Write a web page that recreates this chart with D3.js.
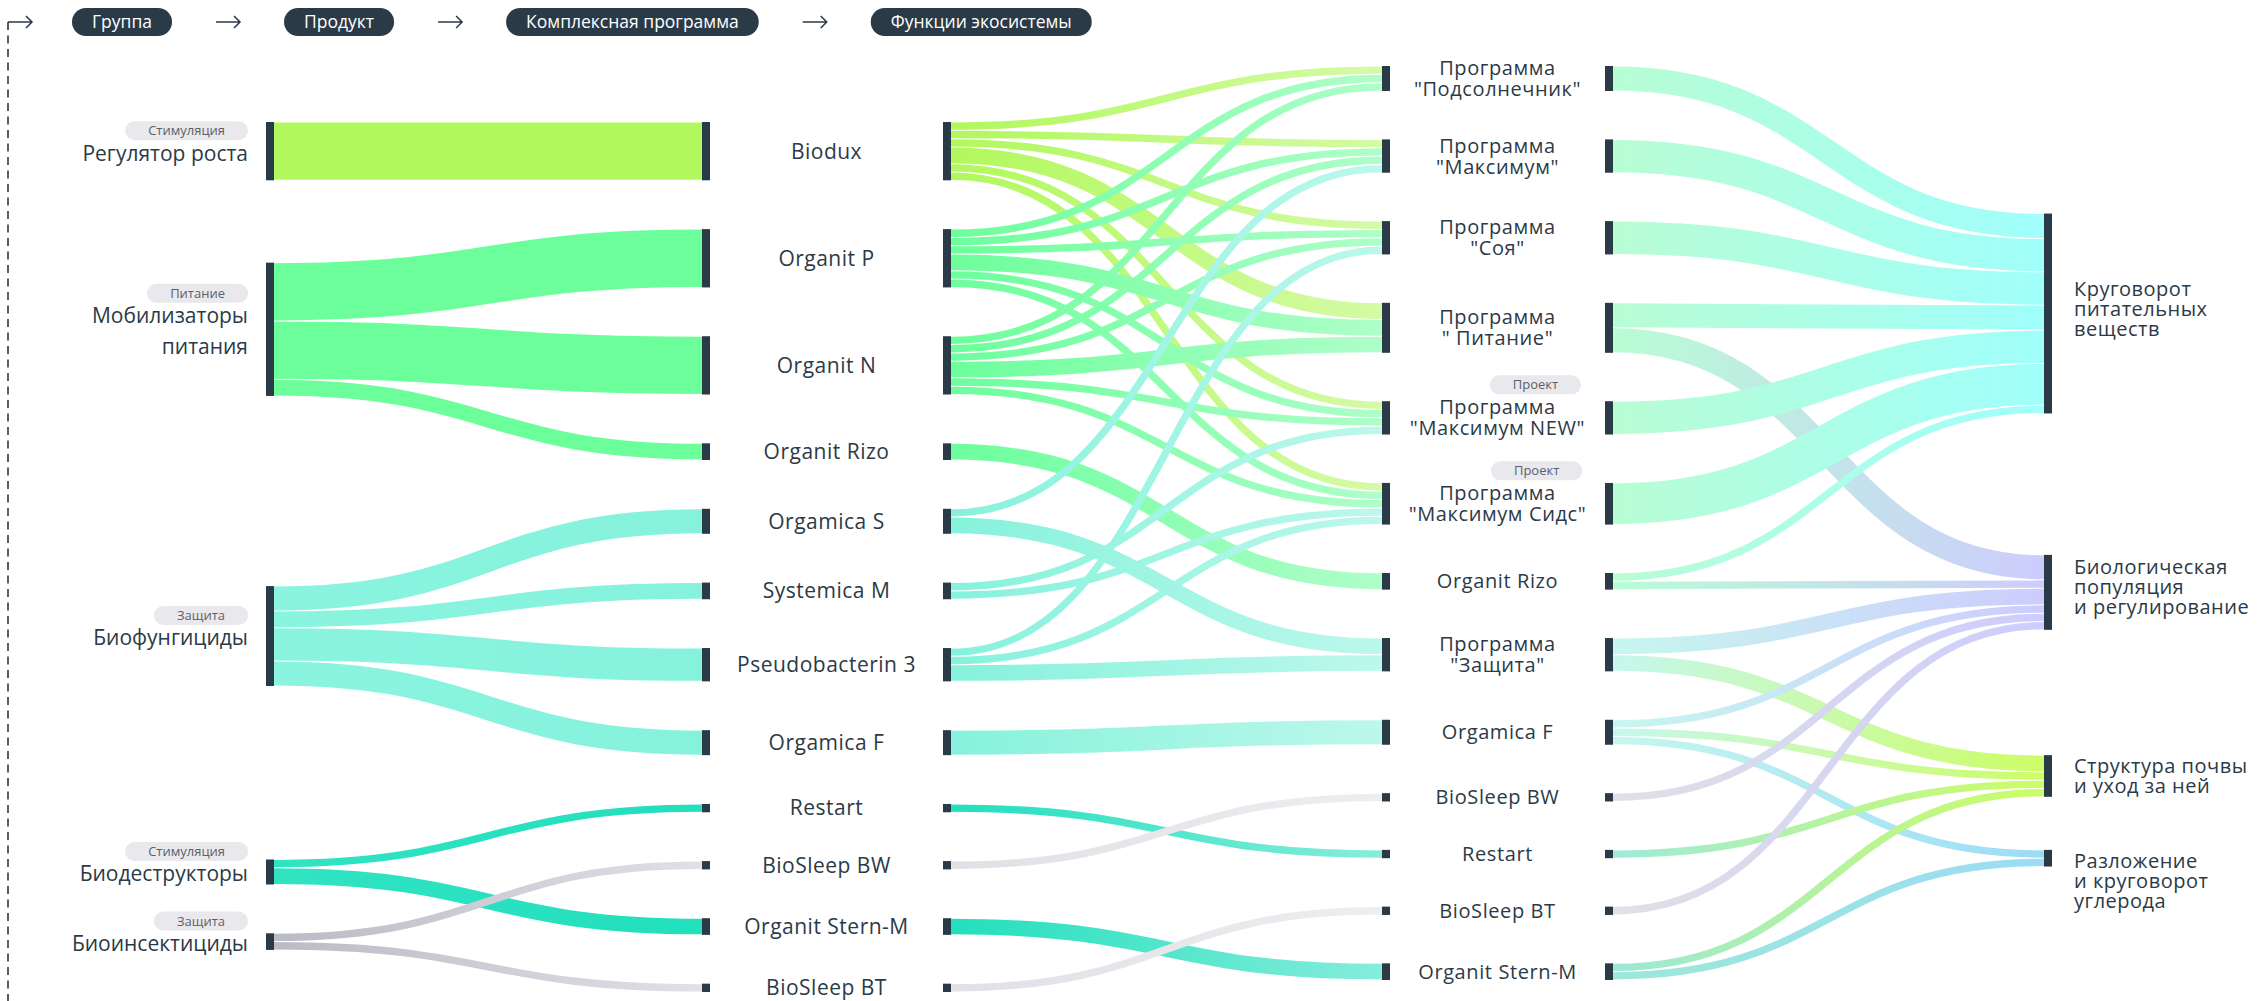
<!DOCTYPE html>
<html>
<head>
<meta charset="utf-8">
<script src="https://cdn.jsdelivr.net/npm/d3@7"></script>
<style>
  body { margin: 0; background: #fff; }
  svg text { font-family: "Open Sans", "Noto Sans", sans-serif; }
</style>
</head>
<body>
<svg id="chart" width="2257" height="1001"></svg>
<script>
// ---- data ----
var steps = ["Группа", "Продукт", "Комплексная программа", "Функции экосистемы"];

var groupNames = ["Регулятор роста", "Мобилизаторы\nпитания", "Биофунгициды", "Биодеструкторы", "Биоинсектициды"];
var groupTags = ["Стимуляция", "Питание", "Защита", "Стимуляция", "Защита"];
var groupColors = ["#b1f85c", "#6dfe9c", "#8af4df", "#30e3c3", "#bbbbc6"];

var productNames = ["Biodux", "Organit P", "Organit N", "Organit Rizo", "Orgamica S", "Systemica M",
  "Pseudobacterin 3", "Orgamica F", "Restart", "BioSleep BW", "Organit Stern-M", "BioSleep BT"];
var productColors = ["#b1f85c", "#6dfe9c", "#6dfe9c", "#6dfe9c", "#86f2dc", "#86f2dc",
  "#86f2dc", "#86f2dc", "#22dfbd", "#e0e0e6", "#22dfbd", "#e0e0e6"];

var programNames = ["Программа\n\"Подсолнечник\"", "Программа\n\"Максимум\"", "Программа\n\"Соя\"",
  "Программа\n\" Питание\"", "Программа\n\"Максимум NEW\"", "Программа\n\"Максимум Сидс\"",
  "Organit Rizo", "Программа\n\"Защита\"", "Orgamica F", "BioSleep BW", "Restart", "BioSleep BT", "Organit Stern-M"];
var programTags = ["", "", "", "", "Проект", "Проект", "", "", "", "", "", "", ""];
var programColors = ["#b8fdd4", "#b8fdd4", "#b8fdd4", "#b8fdd4", "#b8fdd4", "#b8fdd4",
  "#b8fdd4", "#c6f7ef", "#c6f7ef", "#e0e0e6", "#a0ead9", "#e0e0e6", "#9ce8d8"];

var functionNames = ["Круговорот\nпитательных\nвеществ", "Биологическая\nпопуляция\nи регулирование",
  "Структура почвы\nи уход за ней", "Разложение\nи круговорот\nуглерода"];
var functionColors = ["#a0fffb", "#cdccfd", "#cdfd66", "#9cdcf5"];

// [source index, target index, value]
var groupToProduct = [[0, 0, 7], [1, 1, 7], [1, 2, 7], [1, 3, 2], [2, 4, 3], [2, 5, 2], [2, 6, 4], [2, 7, 3],
  [3, 8, 1], [3, 10, 2], [4, 9, 1], [4, 11, 1]];
var productToProgram = [
  [0, 0, 1], [0, 1, 1], [0, 2, 1], [0, 3, 2], [0, 4, 1], [0, 5, 1],
  [1, 0, 1], [1, 1, 1], [1, 2, 1], [1, 3, 2], [1, 4, 1], [1, 5, 1],
  [2, 0, 1], [2, 1, 1], [2, 2, 1], [2, 3, 2], [2, 4, 1], [2, 5, 1],
  [3, 6, 2],
  [4, 1, 1], [4, 7, 2],
  [5, 4, 1], [5, 5, 1],
  [6, 2, 1], [6, 5, 1], [6, 7, 2],
  [7, 8, 3],
  [8, 10, 1],
  [9, 9, 1],
  [10, 12, 2],
  [11, 11, 1]
];
var programToFunction = [
  [0, 0, 3], [1, 0, 4], [2, 0, 4], [3, 0, 3], [3, 1, 3], [4, 0, 4], [5, 0, 5],
  [6, 0, 1], [6, 1, 1], [7, 1, 2], [7, 2, 2], [8, 1, 1], [8, 2, 1], [8, 3, 1],
  [9, 1, 1], [10, 2, 1], [11, 1, 1], [12, 2, 1], [12, 3, 1]
];

// ---- layout ----
var ink = "#2b3a47";
var k = 8.33;          // px per unit
var productPad = 48.8, programPad = 48.4, outerPad = 48.8;
var barW = 8;
var colX = [266, 702, 943, 1382, 1605, 2044];
var productTop = 122, programTop = 66;

var svg = d3.select("#chart");
var defs = svg.append("defs");

function makeNodes(names, colors) {
  return names.map(function(n, i) {
    return { name: n, color: colors[i], index: i, out: [], in: [] };
  });
}
var G = makeNodes(groupNames, groupColors);
var P = makeNodes(productNames, productColors);
var R = makeNodes(programNames, programColors);
var F = makeNodes(functionNames, functionColors);

function makeLinks(list, src, tgt) {
  return list.map(function(d) {
    var l = { source: src[d[0]], target: tgt[d[1]], value: d[2] };
    src[d[0]].out.push(l);
    tgt[d[1]].in.push(l);
    return l;
  });
}
var L1 = makeLinks(groupToProduct, G, P);
var L2 = makeLinks(productToProgram, P, R);
var L3 = makeLinks(programToFunction, R, F);

[G, P, R, F].forEach(function(col) {
  col.forEach(function(n) {
    n.value = Math.max(d3.sum(n.in, function(l) { return l.value; }), d3.sum(n.out, function(l) { return l.value; }));
  });
});

function stack(nodes, top, pad) {
  var y = top;
  nodes.forEach(function(n) {
    n.y0 = y;
    n.y1 = y + n.value * k;
    y = n.y1 + pad;
  });
}
stack(P, productTop, productPad);
stack(R, programTop, programPad);

// slots: out links ordered by target index, in links by source index
function outSlots(nodes) {
  nodes.forEach(function(n) {
    var y = n.y0;
    n.out.sort(function(a, b) { return a.target.index - b.target.index; });
    n.out.forEach(function(l) { l.sy = y + l.value * k / 2; y += l.value * k; });
  });
}
function inSlots(nodes) {
  nodes.forEach(function(n) {
    var y = n.y0;
    n.in.sort(function(a, b) { return a.source.index - b.source.index; });
    n.in.forEach(function(l) { l.ty = y + l.value * k / 2; y += l.value * k; });
  });
}
function resolve(nodes) {
  for (var i = 1; i < nodes.length; i++) {
    var over = nodes[i - 1].y1 + outerPad - nodes[i].y0;
    if (over > 0) {
      nodes[i - 1].y0 -= over / 2; nodes[i - 1].y1 -= over / 2;
      nodes[i].y0 += over / 2; nodes[i].y1 += over / 2;
    }
  }
}

inSlots(P);
outSlots(P);
inSlots(R);
outSlots(R);

// outer columns sit at the weighted centre of their links
G.forEach(function(n) {
  var c = d3.sum(n.out, function(l) { return l.ty * l.value; }) / n.value;
  n.y0 = c - n.value * k / 2; n.y1 = c + n.value * k / 2;
});
F.forEach(function(n) {
  var c = d3.sum(n.in, function(l) { return l.sy * l.value; }) / n.value;
  n.y0 = c - n.value * k / 2; n.y1 = c + n.value * k / 2;
});
resolve(G);
resolve(F);
outSlots(G);
inSlots(F);

// ---- links ----
var linkGen = d3.linkHorizontal();
var gradId = 0;

function drawLinks(links, x0, x1, colorFn) {
  var g = svg.append("g").attr("fill", "none");
  links.forEach(function(l) {
    var cols = colorFn(l);
    var id = "lg" + (gradId++);
    var grad = defs.append("linearGradient")
      .attr("id", id)
      .attr("gradientUnits", "userSpaceOnUse")
      .attr("x1", x0).attr("x2", x1).attr("y1", 0).attr("y2", 0);
    grad.append("stop").attr("offset", "0%").attr("stop-color", cols[0]);
    grad.append("stop").attr("offset", "100%").attr("stop-color", cols[1]);
    g.append("path")
      .attr("d", linkGen({ source: [x0, l.sy], target: [x1, l.ty] }))
      .attr("stroke", "url(#" + id + ")")
      .attr("stroke-width", Math.max(1, l.value * k - 1));
  });
}

drawLinks(L1, colX[0] + barW, colX[1], function(l) { return [l.source.color, l.target.color]; });
drawLinks(L2, colX[2] + barW, colX[3], function(l) {
  return [l.source.color, d3.interpolateRgb(l.source.color, "#fff")(0.45)];
});
drawLinks(L3, colX[4] + barW, colX[5], function(l) { return [l.source.color, l.target.color]; });

// ---- node bars ----
function drawBars(nodes, x) {
  svg.append("g").selectAll("rect")
    .data(nodes)
    .enter().append("rect")
    .attr("x", x)
    .attr("y", function(d) { return d.y0; })
    .attr("width", barW)
    .attr("height", function(d) { return d.y1 - d.y0; })
    .attr("fill", ink);
}
drawBars(G, colX[0]);
drawBars(P, colX[1]);
drawBars(P, colX[2]);
drawBars(R, colX[3]);
drawBars(R, colX[4]);
drawBars(F, colX[5]);

// ---- labels ----
var labels = svg.append("g").attr("fill", ink);

function drawLabel(lines, x, cy, anchor, size, lh, ls) {
  var t = labels.append("text")
    .attr("text-anchor", anchor)
    .attr("font-size", size)
    .attr("letter-spacing", ls || 0);
  var y0 = cy - (lines.length - 1) * lh / 2;
  lines.forEach(function(s, i) {
    t.append("tspan").attr("x", x).attr("y", y0 + i * lh).attr("dy", "0.35em").text(s);
  });
  return { text: t, top: y0 };
}

function drawTag(label, xRight, bottom) {
  var g = labels.append("g");
  var t = g.append("text")
    .attr("font-size", 13)
    .attr("fill", "#5a616b")
    .attr("text-anchor", "middle")
    .text(label);
  var w = t.node().getComputedTextLength() + 46;
  g.insert("rect", "text")
    .attr("x", xRight - w).attr("y", bottom - 19)
    .attr("width", w).attr("height", 19)
    .attr("rx", 9.5)
    .attr("fill", "#e9e9ed");
  t.attr("x", xRight - w / 2).attr("y", bottom - 9.5).attr("dy", "0.35em");
}

var groupLabelX = 248;
G.forEach(function(n, i) {
  var lab = drawLabel(n.name.split("\n"), groupLabelX, (n.y0 + n.y1) / 2 + 2, "end", 21, 31, 0);
  drawTag(groupTags[i], groupLabelX, lab.top - 13);
});

var productLabelX = (colX[1] + barW + colX[2]) / 2;
P.forEach(function(n) {
  drawLabel([n.name], productLabelX, (n.y0 + n.y1) / 2, "middle", 21, 20, 0.5);
});

var programLabelX = (colX[3] + barW + colX[4]) / 2;
R.forEach(function(n, i) {
  var lab = drawLabel(n.name.split("\n"), programLabelX, (n.y0 + n.y1) / 2, "middle", 20, 21, 0.6);
  if (programTags[i]) {
    var w = lab.text.node().getBBox();
    drawTag(programTags[i], w.x + w.width - 4, lab.top - 13);
  }
});

var functionLabelX = colX[5] + barW + 22;
F.forEach(function(n) {
  var lines = n.name.split("\n");
  var cy = Math.max((n.y0 + n.y1) / 2 - 5, n.y0 + 11 + (lines.length - 1) * 10);
  drawLabel(lines, functionLabelX, cy, "start", 20, 20, 0.5);
});

// ---- header ----
var head = svg.append("g");
var headY = 22;

function arrow(x) {
  head.append("path")
    .attr("d", "M" + x + "," + headY + "H" + (x + 24) + "M" + (x + 18) + "," + (headY - 6) +
      "L" + (x + 24) + "," + headY + "L" + (x + 18) + "," + (headY + 6))
    .attr("fill", "none")
    .attr("stroke", ink)
    .attr("stroke-width", 1.5);
}

head.append("line")
  .attr("x1", 8).attr("x2", 8)
  .attr("y1", headY).attr("y2", 1001)
  .attr("stroke", ink)
  .attr("stroke-width", 1.6)
  .attr("stroke-dasharray", "8,5.5");
arrow(8);

var hx = 72;
steps.forEach(function(s, i) {
  var t = head.append("text")
    .attr("font-size", 17.5)
    .attr("fill", "#fff")
    .attr("text-anchor", "middle")
    .text(s);
  var w = t.node().getComputedTextLength() + 40;
  head.insert("rect", "text")
    .attr("x", hx).attr("y", headY - 14)
    .attr("width", w).attr("height", 28)
    .attr("rx", 14)
    .attr("fill", ink);
  t.attr("x", hx + w / 2).attr("y", headY).attr("dy", "0.35em");
  hx += w;
  if (i < steps.length - 1) {
    arrow(hx + 44);
    hx += 44 + 24 + 44;
  }
});
</script>
</body>
</html>
